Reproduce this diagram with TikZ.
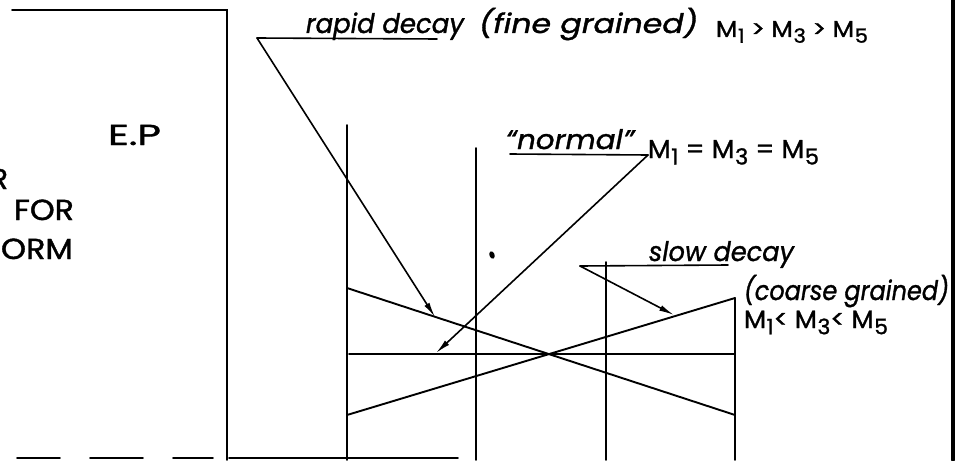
\documentclass[tikz,border=0pt]{standalone}
\usepackage{fontspec}
\setmainfont{Poppins}[FakeBold=1.2]
\usepackage{graphicx}
\usetikzlibrary{arrows.meta}
\newcommand{\fitw}[2]{\resizebox{#1}{\height}{#2}}
\newcommand{\Ms}[1]{M\kern0.5pt\raisebox{-0.25em}{\scalebox{0.85}{#1}}}
\begin{document}
\begin{tikzpicture}[x=1pt,y=-1pt,line width=1.9pt,line cap=round,
  caps/.style={inner sep=0pt,anchor=base west,font=\fontsize{29}{31}\selectfont},
  hand/.style={inner sep=0pt,anchor=base west,font=\fontsize{27}{29}\selectfont\itshape},
  mrow/.style={inner sep=0pt,anchor=base west,font=\fontsize{23}{25}\selectfont},
  arr/.style={-{Latex[length=15pt,width=6pt]},line width=1.6pt}]
\useasboundingbox (0,0) rectangle (960,460);
\clip (0,0) rectangle (960,460);
\fill[white] (0,0) rectangle (960,460);

% ---- left frame ----
\coordinate (ftl) at (12,10);
\coordinate (ftr) at (227,10);
\coordinate (fbr) at (227,460);
\draw (ftl) -- (ftr) -- (fbr);
\draw (17,458) -- (60,458);
\draw (90,458) -- (143,458);
\draw (173,458) -- (213,458);
\draw (229,458) -- (458,458);
% right border
\draw[line width=3.5pt] (953,0) -- (953,460);

% ---- left texts ----
\node[caps,anchor=base east] (tR) at (9,189) {R};
\node[caps] (tEP) at (107,145) {\fitw{53pt}{E.P}};
\node[caps] (tFOR) at (13,220) {\fitw{60pt}{FOR}};
\node[caps] (tORM) at (0,259) {\fitw{72pt}{ORM}};

% ---- chart ----
\coordinate (v1t) at (347,125);  \coordinate (v1b) at (347,460);
\coordinate (v2t) at (476,148);  \coordinate (v2b) at (476,460);
\coordinate (v3t) at (606,262);  \coordinate (v3b) at (606,460);
\coordinate (v4t) at (735,298);  \coordinate (v4b) at (735,460);
\draw (v1t) -- (v1b);
\draw (v2t) -- (v2b);
\draw (v3t) -- (v3b);
\draw (v4t) -- (v4b);

\coordinate (rapA) at (347,288);  \coordinate (rapB) at (735,415);
\coordinate (sloA) at (347,415);  \coordinate (sloB) at (735,298);
\coordinate (norA) at (349,354);  \coordinate (norB) at (735,354);
\draw (rapA) -- (rapB);
\draw (sloA) -- (sloB);
\draw (norA) -- (norB);

\fill[rotate around={20:(492,255)}] (492,255) ellipse (2.6pt and 3.8pt);

% ---- labels ----
\node[hand] (lrap) at (305,33) {\fitw{158pt}{rapid decay}};
\node[hand] (lfine) at (478,33) {\fitw{219pt}{(fine grained)}};
\node[mrow] (mrap) at (715,37) {\fitw{152pt}{\Ms{1} > \Ms{3} > \Ms{5}}};

\node[hand] (lnor) at (505,149) {\fitw{128pt}{“normal”}};
\node[caps,font=\fontsize{26}{28}\selectfont] (mnor) at (647,158) {\fitw{171pt}{\Ms{1} = \Ms{3} = \Ms{5}}};

\node[hand] (lslo) at (648,261) {\fitw{145pt}{slow decay}};
\node[hand] (lcoa) at (743,300) {\fitw{205pt}{(coarse grained)}};
\node[mrow,font=\fontsize{25}{27}\selectfont] (mslo) at (743,328) {\fitw{144pt}{\Ms{1}< \Ms{3}< \Ms{5}}};

% ---- underlines and arrows ----
\coordinate (urapS) at (257,38);  \coordinate (urapE) at (437,39);
\coordinate (unorS) at (510,154); \coordinate (unorE) at (648,155);
\coordinate (usloS) at (580,266); \coordinate (usloE) at (728,265);
\coordinate (tipRap) at (435,317);
\coordinate (tipNor) at (436,353);
\coordinate (tipSlo) at (674,315);
\draw[line width=1.6pt] (urapS) -- (urapE);
\draw[line width=1.6pt] (unorS) -- (unorE);
\draw[line width=1.6pt] (usloS) -- (usloE);
\draw[arr] (urapS) -- (tipRap);
\draw[arr] (unorE) -- (tipNor);
\draw[arr] (usloS) -- (tipSlo);
\end{tikzpicture}
\end{document}
